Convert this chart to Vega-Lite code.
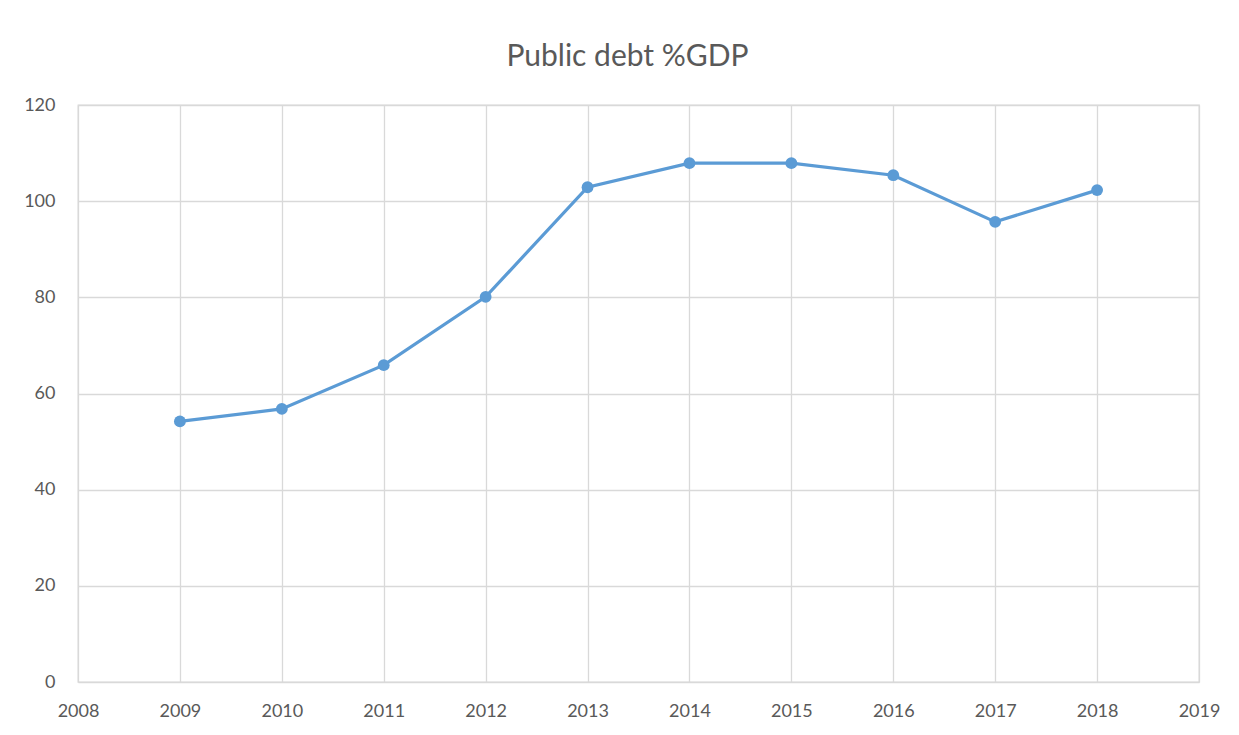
{
  "$schema": "https://vega.github.io/schema/vega-lite/v6.json",
  "autosize": {"type": "none"},
  "width": 1121,
  "height": 577,
  "padding": {"left": 78, "top": 105, "right": 40, "bottom": 54},
  "background": "white",
  "title": {
    "text": "Public debt %GDP",
    "font": "Lato",
    "fontSize": 30,
    "fontWeight": "normal",
    "color": "#595959",
    "anchor": "middle",
    "offset": 24,
    "dx": -11
  },
  "data": {
    "values": [
      {"year": 2009, "debt": 54.2},
      {"year": 2010, "debt": 56.8},
      {"year": 2011, "debt": 65.9},
      {"year": 2012, "debt": 80.1},
      {"year": 2013, "debt": 102.9},
      {"year": 2014, "debt": 107.9},
      {"year": 2015, "debt": 107.9},
      {"year": 2016, "debt": 105.4},
      {"year": 2017, "debt": 95.7},
      {"year": 2018, "debt": 102.3}
    ]
  },
  "config": {
    "view": {"stroke": "#d9d9d9", "strokeWidth": 1.3},
    "axis": {
      "labelFont": "Lato",
      "labelFontSize": 18,
      "labelColor": "#595959",
      "gridColor": "#d9d9d9",
      "gridWidth": 1.3,
      "ticks": false,
      "domain": false,
      "title": null
    }
  },
  "encoding": {
    "x": {
      "field": "year",
      "type": "quantitative",
      "scale": {"domain": [2008, 2019], "nice": false, "zero": false},
      "axis": {"values": [2008, 2009, 2010, 2011, 2012, 2013, 2014, 2015, 2016, 2017, 2018, 2019], "format": "d", "labelPadding": 20, "labelFlush": false}
    },
    "y": {
      "field": "debt",
      "type": "quantitative",
      "scale": {"domain": [0, 120], "nice": false},
      "axis": {"values": [0, 20, 40, 60, 80, 100, 120], "labelPadding": 23}
    }
  },
  "layer": [
    {"mark": {"type": "line", "color": "#5b9bd5", "strokeWidth": 3.2}},
    {"mark": {"type": "point", "filled": true, "color": "#5b9bd5", "opacity": 1, "size": 140}}
  ]
}
